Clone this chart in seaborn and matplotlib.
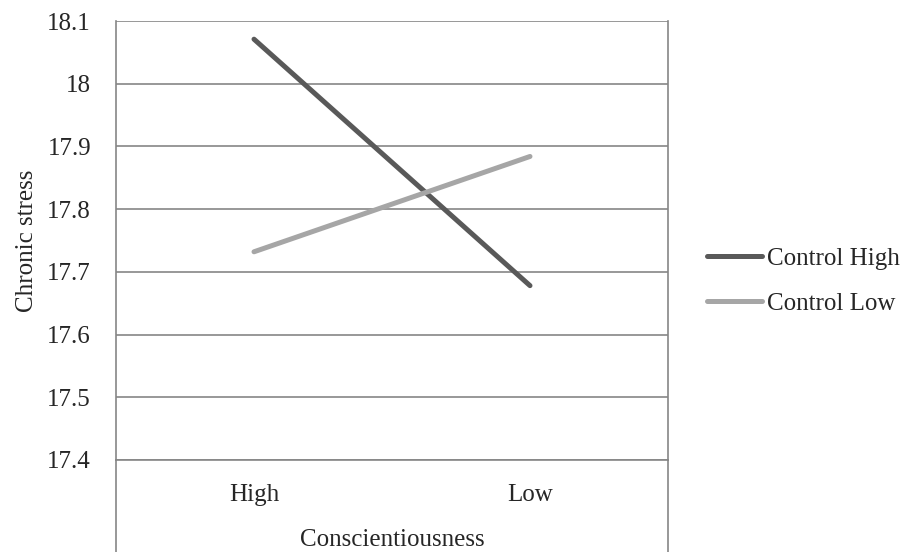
import matplotlib
matplotlib.use("Agg")
import matplotlib.pyplot as plt
import seaborn as sns
import pandas as pd

# Interaction of conscientiousness and control on chronic stress
conscientiousness = ["High", "Low"]
control_high = [18.071, 17.678]
control_low = [17.732, 17.884]
series_names = ["Control High", "Control Low"]
y_ticks = [17.4, 17.5, 17.6, 17.7, 17.8, 17.9, 18.0, 18.1]
y_tick_labels = ["17.4", "17.5", "17.6", "17.7", "17.8", "17.9", "18", "18.1"]

df = pd.DataFrame({
    "Conscientiousness": conscientiousness * 2,
    "Chronic stress": control_high + control_low,
    "Control": [series_names[0]] * 2 + [series_names[1]] * 2,
})

sns.set_style("white")
plt.rcParams["font.family"] = ["Liberation Serif", "DejaVu Serif"]

W, H = 913, 552
fig = plt.figure(figsize=(W / 100, H / 100), dpi=100)
ax = fig.add_axes([116 / W, (H - 460) / H, 552 / W, (460 - 21) / H])

grid_c = "#868686"
palette = {series_names[0]: "#595959", series_names[1]: "#a6a6a6"}

sns.lineplot(data=df, x="Conscientiousness", y="Chronic stress", hue="Control",
             palette=palette, linewidth=3.6, ax=ax, sort=False,
             solid_capstyle="round")

ax.set_xlim(-0.5, 1.5)
ax.set_ylim(17.4, 18.1)
ax.set_yticks(y_ticks)
ax.set_yticklabels(y_tick_labels)
ax.yaxis.grid(True, color=grid_c, linewidth=1.2)
ax.xaxis.grid(False)
ax.set_axisbelow(True)

for side in ["left", "right", "bottom"]:
    ax.spines[side].set_visible(True)
    ax.spines[side].set_color(grid_c)
    ax.spines[side].set_linewidth(1.2)
ax.spines["top"].set_visible(False)

# side walls of the category axis box continue below the value range
for x in (0, 1):
    ax.plot([x, x], [0, -92 / 439], transform=ax.transAxes, color=grid_c,
            linewidth=1.2, clip_on=False)

ax.tick_params(axis="y", length=0, pad=18, labelsize=18)
ax.tick_params(axis="x", length=0, pad=17, labelsize=18)
ax.set_ylabel("Chronic stress", fontsize=18, labelpad=7)
ax.set_xlabel("Conscientiousness", fontsize=18, labelpad=17)

ax.legend(loc="center left", bbox_to_anchor=(707 / W, 1 - 281 / H),
          bbox_transform=fig.transFigure, frameon=False, fontsize=18,
          handlelength=2.2, handletextpad=0.2, labelspacing=0.9,
          borderaxespad=0, borderpad=0)

fig.savefig("out.png", dpi=100, facecolor="white")
